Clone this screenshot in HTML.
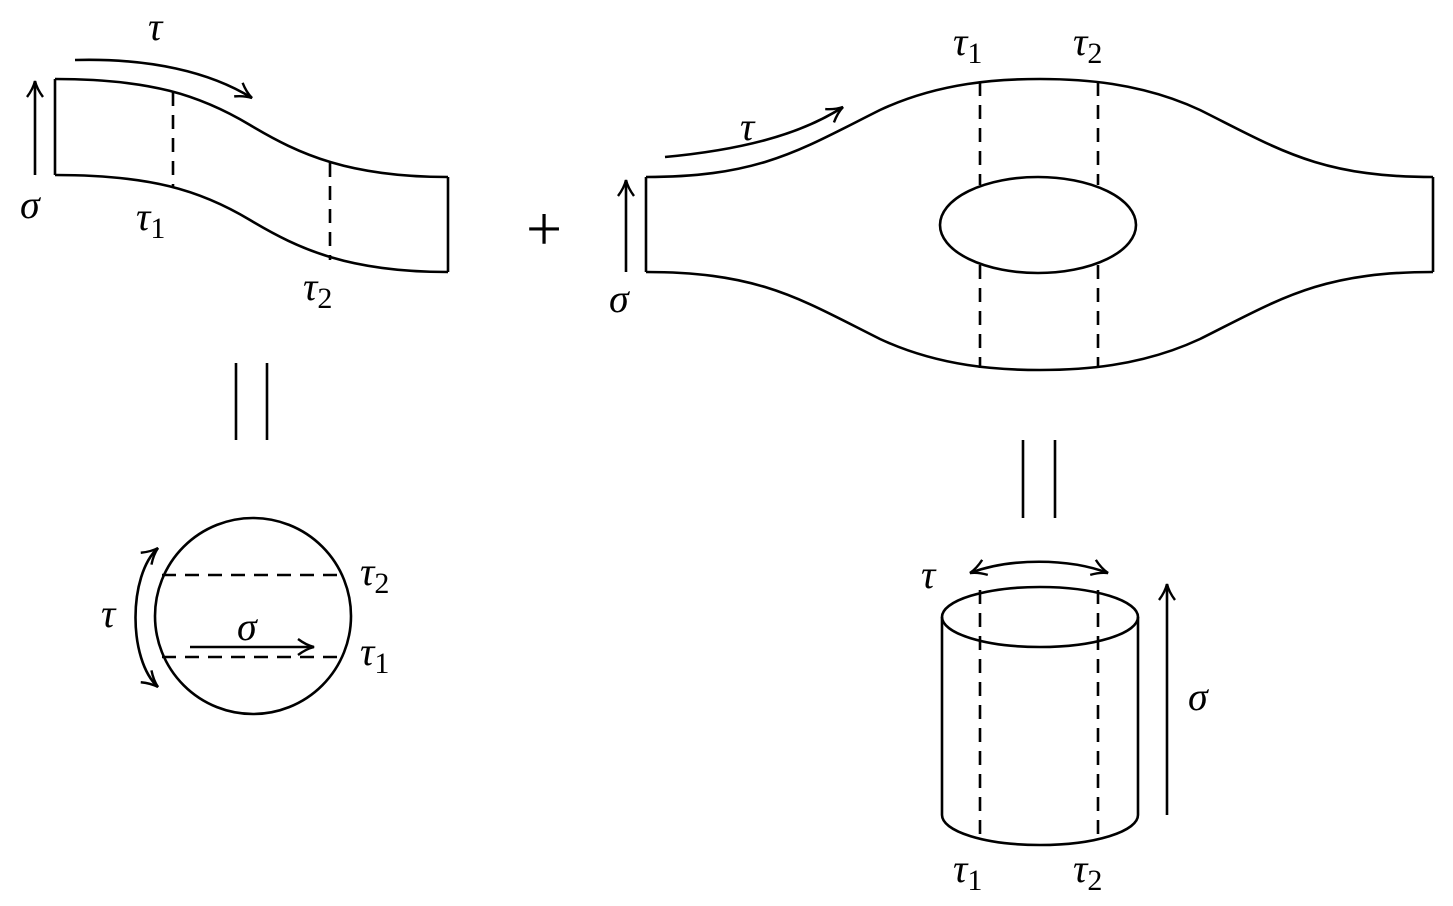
<!DOCTYPE html>
<html><head><meta charset="utf-8"><style>
html,body{margin:0;padding:0;background:#fff;}
svg{display:block;}
text{font-family:"Liberation Serif",serif;font-size:40px;fill:#000;}
.v{font-style:italic;}
.s{font-size:30px;}
path,line,ellipse,circle{fill:none;stroke:#000;stroke-width:2.6;}
.d{stroke-dasharray:14,9;}
</style></head><body>
<svg width="1453" height="906" viewBox="0 0 1453 906" xmlns="http://www.w3.org/2000/svg">
<defs>
<marker id="ah" viewBox="0 0 20 20" refX="18" refY="10" markerWidth="20" markerHeight="20" markerUnits="userSpaceOnUse" orient="auto-start-reverse">
<path d="M2,2 Q10,8 18,10 Q10,12 2,18" style="stroke-width:2.4"/>
</marker>
</defs>

<g>
<line x1="55" y1="79" x2="55" y2="175"/>
<line x1="448" y1="177" x2="448" y2="272"/>
<path d="M55,79 C150,79 200,95 250,125 C300,155 350,177 448,177"/>
<path d="M55,175 C150,175 200,190 250,220 C300,250 350,272 448,272"/>
<line class="d" x1="173" y1="92" x2="173" y2="188"/>
<line class="d" x1="330" y1="163" x2="330" y2="260"/>
<line x1="35" y1="175" x2="35" y2="81" marker-end="url(#ah)"/>
<path d="M75,60 C150,58 210,72 252,98" marker-end="url(#ah)"/>
<text class="v" x="20" y="218">σ</text>
<text class="v" x="148" y="40">τ</text>
<text x="136" y="230"><tspan class="v">τ</tspan><tspan class="s" dy="8">1</tspan></text>
<text x="303" y="300"><tspan class="v">τ</tspan><tspan class="s" dy="8">2</tspan></text>
</g>

<text x="526" y="250" style="font-size:64px">+</text>

<g>
<line x1="646" y1="177" x2="646" y2="272"/>
<line x1="1433" y1="177" x2="1433" y2="272"/>
<path d="M646,177 C760,177 800,150 880,110 C940,82 1000,79 1040,79 C1080,79 1140,82 1200,110 C1280,150 1320,177 1433,177"/>
<path d="M646,272 C760,272 800,299 880,339 C940,367 1000,370 1040,370 C1080,370 1140,367 1200,339 C1280,299 1320,272 1433,272"/>
<ellipse cx="1038" cy="225" rx="98" ry="48"/>
<line class="d" x1="980" y1="82" x2="980" y2="185"/>
<line class="d" x1="1098" y1="82" x2="1098" y2="185"/>
<line class="d" x1="980" y1="265" x2="980" y2="368"/>
<line class="d" x1="1098" y1="265" x2="1098" y2="368"/>
<line x1="626" y1="272" x2="626" y2="180" marker-end="url(#ah)"/>
<path d="M665,157 C740,150 800,135 843,107" marker-end="url(#ah)"/>
<text class="v" x="609" y="312">σ</text>
<text class="v" x="740" y="140">τ</text>
<text x="953" y="55"><tspan class="v">τ</tspan><tspan class="s" dy="8">1</tspan></text>
<text x="1073" y="55"><tspan class="v">τ</tspan><tspan class="s" dy="8">2</tspan></text>
</g>

<g>
<line x1="236" y1="363" x2="236" y2="440"/>
<line x1="267" y1="363" x2="267" y2="440"/>
</g>
<g>
<line x1="1023" y1="440" x2="1023" y2="518"/>
<line x1="1055" y1="440" x2="1055" y2="518"/>
</g>

<g>
<circle cx="253" cy="616" r="98"/>
<line class="d" x1="162" y1="575" x2="345" y2="575"/>
<line class="d" x1="162" y1="657" x2="345" y2="657"/>
<line x1="190" y1="647" x2="314" y2="647" marker-end="url(#ah)"/>
<path d="M158,548 C128,575 128,660 158,687" marker-start="url(#ah)" marker-end="url(#ah)"/>
<text class="v" x="237" y="640">σ</text>
<text class="v" x="101" y="627">τ</text>
<text x="360" y="585"><tspan class="v">τ</tspan><tspan class="s" dy="8">2</tspan></text>
<text x="360" y="665"><tspan class="v">τ</tspan><tspan class="s" dy="8">1</tspan></text>
</g>

<g>
<ellipse cx="1040" cy="617" rx="98" ry="30"/>
<line x1="942" y1="617" x2="942" y2="815"/>
<line x1="1138" y1="617" x2="1138" y2="815"/>
<path d="M942,815 A98,30 0 0 0 1138,815"/>
<line class="d" x1="980" y1="590" x2="980" y2="843"/>
<line class="d" x1="1098" y1="590" x2="1098" y2="843"/>
<path d="M970,573 C1010,558 1068,558 1108,573" marker-start="url(#ah)" marker-end="url(#ah)"/>
<line x1="1167" y1="815" x2="1167" y2="584" marker-end="url(#ah)"/>
<text class="v" x="921" y="588">τ</text>
<text class="v" x="1188" y="710">σ</text>
<text x="953" y="882"><tspan class="v">τ</tspan><tspan class="s" dy="8">1</tspan></text>
<text x="1073" y="882"><tspan class="v">τ</tspan><tspan class="s" dy="8">2</tspan></text>
</g>
</svg>
</body></html>
